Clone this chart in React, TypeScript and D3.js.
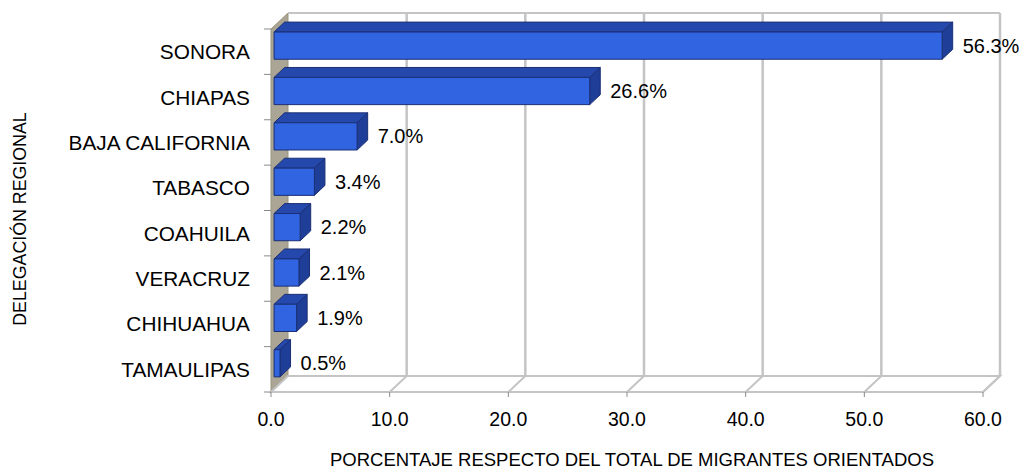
import React from "react";
import * as d3 from "d3";

const categories = ["SONORA", "CHIAPAS", "BAJA CALIFORNIA", "TABASCO", "COAHUILA", "VERACRUZ", "CHIHUAHUA", "TAMAULIPAS"];
const values = [56.3, 26.6, 7.0, 3.4, 2.2, 2.1, 1.9, 0.5];
const xTicks = [0, 10, 20, 30, 40, 50, 60];
const xTitle = "PORCENTAJE RESPECTO DEL TOTAL DE MIGRANTES ORIENTADOS";
const yTitle = "DELEGACIÓN REGIONAL";

const W = 1028;
const H = 470;
const FONT = "'Liberation Sans', Arial, sans-serif";
const DX = 17;
const DY = -16;
const D1 = 0.18;
const D2 = 0.8;

export default function App() {
  const xs = d3.scaleLinear().domain([0, 60]).range([271, 983]);
  const ys = d3.scaleBand<string>().domain(categories).range([29, 392]).padding(0);
  const step = ys.step();
  const top = ys.range()[0];
  const bottom = ys.range()[1];
  const x0 = xs(0);
  const x1 = xs(60);
  const pts = (a: number[][]) => a.map((p) => p.join(",")).join(" ");

  return (
    <svg width={W} height={H} style={{ position: "absolute", left: 0, top: 0, background: "#fff" }} fontFamily={FONT}>
      {/* back wall */}
      <rect x={x0 + DX} y={top + DY} width={x1 - x0} height={bottom - top} fill="#fff" />
      {/* left wall */}
      <polygon
        points={pts([[x0, top], [x0 + DX, top + DY], [x0 + DX, bottom + DY], [x0, bottom]])}
        fill="#aaa594"
        stroke="#9a957f"
        strokeWidth={1}
      />
      {/* floor */}
      <polygon
        points={pts([[x0, bottom], [x0 + DX, bottom + DY], [x1 + DX, bottom + DY], [x1, bottom]])}
        fill="#fff"
        stroke="#c4c4c4"
        strokeWidth={2}
      />
      {/* back wall top edge */}
      <line x1={x0 + DX} y1={top + DY} x2={x1 + DX} y2={top + DY} stroke="#c4c4c4" strokeWidth={2} />
      {/* gridlines */}
      {xTicks.map((t) => (
        <g key={"g" + t}>
          {t > 0 && (
            <line x1={xs(t) + DX} y1={top + DY} x2={xs(t) + DX} y2={bottom + DY} stroke="#c4c4c4" strokeWidth={2.5} />
          )}
          {t > 0 && (
            <line x1={xs(t) + DX} y1={bottom + DY} x2={xs(t)} y2={bottom} stroke="#c4c4c4" strokeWidth={2} />
          )}
        </g>
      ))}
      {/* bottom ticks */}
      {xTicks.map((t) => (
        <line key={"t" + t} x1={xs(t)} y1={bottom} x2={xs(t)} y2={bottom + 5} stroke="#8a8a8a" strokeWidth={1} />
      ))}
      {/* left ticks */}
      {d3.range(categories.length + 1).map((i) => (
        <line key={"lt" + i} x1={x0 - 7} y1={top + i * step} x2={x0} y2={top + i * step} stroke="#8a8a8a" strokeWidth={1} />
      ))}
      {/* bars */}
      {categories.map((c, i) => {
        const v = values[i];
        const by0 = (ys(c) as number) + step * 0.13;
        const by1 = by0 + step * 0.6;
        const fx0 = x0 + DX * D1;
        const fx1 = xs(v) + DX * D1;
        const fy0 = by0 + DY * D1;
        const fy1 = by1 + DY * D1;
        const ox = DX * (D2 - D1);
        const oy = DY * (D2 - D1);
        return (
          <g key={c} stroke="#1b2f74" strokeWidth={1} strokeLinejoin="round">
            <polygon points={pts([[fx0, fy0], [fx0 + ox, fy0 + oy], [fx1 + ox, fy0 + oy], [fx1, fy0]])} fill="#2548ad" />
            <polygon points={pts([[fx1, fy0], [fx1 + ox, fy0 + oy], [fx1 + ox, fy1 + oy], [fx1, fy1]])} fill="#1f3e98" />
            <rect x={fx0} y={fy0} width={Math.max(0, fx1 - fx0)} height={fy1 - fy0} fill="#3064e0" />
          </g>
        );
      })}
      {/* value labels */}
      {categories.map((c, i) => (
        <text
          key={"v" + c}
          x={xs(values[i]) + DX * D2 + 10}
          y={(ys(c) as number) + step / 2 - 6}
          dominantBaseline="central"
          fontSize={20}
          fill="#000"
        >
          {values[i].toFixed(1) + "%"}
        </text>
      ))}
      {/* category labels */}
      {categories.map((c) => (
        <text
          key={"c" + c}
          x={250}
          y={(ys(c) as number) + step / 2}
          dominantBaseline="central"
          textAnchor="end"
          fontSize={20.8}
          fill="#000"
        >
          {c}
        </text>
      ))}
      {/* x tick labels */}
      {xTicks.map((t) => (
        <text key={"xl" + t} x={xs(t)} y={419} dominantBaseline="central" textAnchor="middle" fontSize={19.5} fill="#000">
          {t.toFixed(1)}
        </text>
      ))}
      <text x={632} y={459} dominantBaseline="central" textAnchor="middle" fontSize={18.5} fill="#000">
        {xTitle}
      </text>
      <text
        transform={`translate(20,219) rotate(-90)`}
        dominantBaseline="central"
        textAnchor="middle"
        fontSize={17.8}
        fill="#000"
      >
        {yTitle}
      </text>
    </svg>
  );
}
